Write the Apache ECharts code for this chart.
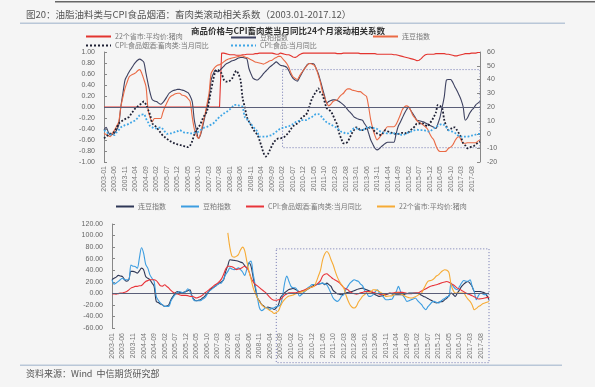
<!DOCTYPE html>
<html><head><meta charset="utf-8">
<script src="https://cdn.jsdelivr.net/npm/echarts@6/dist/echarts.min.js"></script>
<style>html,body{margin:0;padding:0;background:#f5f5f5;}#c{width:595px;height:387px;}</style>
</head><body><div id="c"></div>
<script>
// ---------- categories ----------
const months = [];
for (let y = 2003; y <= 2017; y++) for (let m = 1; m <= 12; m++) months.push(y + '-' + (m < 10 ? '0' : '') + m);

// ---------- top chart: 24-month rolling correlations ----------
const corrDouPo = [
-0.42,-0.37,-0.45,-0.51,-0.50,-0.48,-0.42,-0.33,0.00,0.25,0.49,0.57,
0.64,0.70,0.76,0.81,0.85,0.87,0.85,0.81,0.61,0.42,0.25,0.13,
0.11,0.10,0.07,0.05,0.08,0.13,0.19,0.25,0.28,0.30,0.31,0.32,
0.32,0.31,0.30,0.28,0.26,0.20,0.10,-0.24,-0.42,-0.57,-0.50,-0.35,
-0.18,0.00,0.16,0.49,0.60,0.67,0.64,0.66,0.70,0.74,0.78,0.80,
0.82,0.84,0.85,0.87,0.89,0.90,0.90,0.89,0.88,0.70,0.60,0.52,
0.50,0.49,0.52,0.56,0.61,0.65,0.69,0.73,0.76,0.79,0.82,0.79,
0.76,0.75,0.74,0.72,0.66,0.58,0.52,0.49,0.47,0.53,0.60,0.67,
0.73,0.78,0.79,0.79,0.78,0.70,0.61,0.48,0.34,0.20,0.07,0.10,
0.12,0.13,0.13,0.12,0.10,0.07,0.04,0.00,-0.05,-0.09,-0.13,-0.18,
-0.20,-0.22,-0.23,-0.24,-0.30,-0.36,-0.48,-0.60,-0.68,-0.75,-0.78,-0.76,
-0.72,-0.69,-0.66,-0.64,-0.64,-0.64,-0.64,-0.50,-0.36,-0.28,-0.20,-0.12,
-0.05,0.00,-0.06,-0.12,-0.18,-0.24,-0.25,-0.26,-0.27,-0.29,-0.31,-0.33,
-0.35,-0.37,-0.39,-0.30,-0.18,0.00,0.19,0.49,0.50,0.50,0.45,0.37,
0.30,0.22,0.13,0.00,-0.24,-0.20,-0.12,-0.06,-0.02,0.04,0.07,0.10];

const corrLianDou = [
-0.48,-0.50,-0.52,-0.54,-0.48,-0.42,-0.35,-0.27,0.00,0.18,0.34,0.45,
0.55,0.58,0.60,0.62,0.66,0.68,0.61,0.50,0.37,-0.05,-0.20,-0.27,
-0.21,-0.21,-0.21,-0.21,-0.10,0.00,0.08,0.16,0.20,0.22,0.24,0.25,
0.25,0.22,0.21,0.19,0.15,0.10,-0.18,-0.40,-0.52,-0.57,-0.48,-0.30,
-0.15,0.05,0.25,0.61,0.68,0.73,0.76,0.77,0.79,0.82,0.85,0.87,
0.88,0.89,0.90,0.91,0.92,0.93,0.93,0.91,0.90,0.88,0.86,0.84,
0.82,0.81,0.80,0.79,0.78,0.80,0.82,0.84,0.85,0.88,0.90,0.92,
0.92,0.88,0.84,0.79,0.72,0.62,0.55,0.52,0.50,0.56,0.62,0.67,
0.72,0.77,0.79,0.78,0.76,0.70,0.58,0.45,0.28,0.18,0.08,0.02,
0.05,0.10,0.12,0.13,0.18,0.22,0.25,0.30,0.33,0.33,0.31,0.30,
0.29,0.28,0.28,0.25,0.22,0.19,0.00,-0.24,-0.40,-0.52,-0.60,-0.56,
-0.51,-0.46,-0.40,-0.36,-0.36,-0.36,-0.36,-0.32,-0.24,-0.15,-0.05,0.00,
0.02,0.00,-0.06,-0.15,-0.20,-0.25,-0.28,-0.30,-0.33,-0.36,-0.40,-0.48,
-0.55,-0.60,-0.70,-0.78,-0.81,-0.81,-0.81,-0.80,-0.75,-0.73,-0.69,-0.62,
-0.56,-0.54,-0.60,-0.66,-0.66,-0.65,-0.65,-0.65,-0.65,-0.65,-0.62,-0.60];

const corrPork = [
0,0,0,0,0,0,0,0,0,0,0,0,
0,0,0,0,0,0,0,0,0,0,0,0,
0,0,0,0,0,0,0,0,0,0,0,0,
0,0,0,0,0,0,0,0,0,0,0,0,
0,0,0,0,0,0,0,0,0.98,0.98,0.97,0.96,
0.95,0.95,0.95,0.94,0.94,0.94,0.95,0.95,0.96,0.96,0.96,0.96,
0.97,0.97,0.98,0.98,0.98,0.98,0.98,0.98,0.98,0.97,0.96,0.96,
0.98,0.97,0.96,0.95,0.95,0.93,0.91,0.90,0.92,0.95,0.97,0.98,
0.98,0.98,0.98,0.98,0.98,0.98,0.98,0.98,0.98,0.98,0.98,0.98,
0.98,0.98,0.98,0.97,0.97,0.97,0.98,0.98,0.98,0.98,0.98,0.98,
0.98,0.98,0.97,0.97,0.97,0.97,0.97,0.97,0.97,0.97,0.96,0.96,
0.96,0.96,0.96,0.96,0.96,0.96,0.95,0.95,0.94,0.93,0.92,0.91,
0.90,0.89,0.88,0.87,0.86,0.84,0.85,0.88,0.92,0.95,0.96,0.96,
0.96,0.96,0.97,0.97,0.97,0.97,0.97,0.96,0.96,0.95,0.94,0.93,
0.93,0.94,0.95,0.96,0.97,0.97,0.97,0.98,0.98,0.98,0.99,0.99];

const corrCpiMeat = [
-0.57,-0.54,-0.51,-0.49,-0.47,-0.45,-0.38,-0.30,-0.27,-0.24,-0.22,-0.20,
-0.18,-0.12,-0.07,-0.02,0.01,0.04,0.07,0.10,0.04,-0.05,-0.15,-0.30,
-0.33,-0.37,-0.42,-0.47,-0.52,-0.55,-0.58,-0.61,-0.63,-0.65,-0.67,-0.68,
-0.69,-0.70,-0.71,-0.72,-0.73,-0.70,-0.62,-0.50,-0.42,-0.37,-0.30,-0.21,
-0.14,-0.08,0.10,0.31,0.50,0.64,0.68,0.65,0.61,0.50,0.46,0.46,
0.48,0.52,0.60,0.66,0.60,0.49,0.16,0.00,-0.18,-0.26,-0.33,-0.40,
-0.46,-0.50,-0.60,-0.72,-0.84,-0.90,-0.86,-0.78,-0.70,-0.63,-0.60,-0.57,
-0.57,-0.56,-0.54,-0.50,-0.46,-0.40,-0.35,-0.32,-0.30,-0.26,-0.20,-0.17,
-0.15,-0.08,0.04,0.15,0.22,0.28,0.34,0.26,0.22,0.10,-0.02,-0.05,
-0.08,-0.15,-0.24,-0.32,-0.48,-0.58,-0.66,-0.66,-0.63,-0.56,-0.48,-0.42,
-0.37,-0.38,-0.42,-0.42,-0.40,-0.39,-0.38,-0.36,-0.40,-0.45,-0.48,-0.50,
-0.51,-0.46,-0.42,-0.44,-0.46,-0.47,-0.48,-0.49,-0.49,-0.48,-0.47,-0.47,
-0.48,-0.46,-0.42,-0.39,-0.35,-0.30,-0.30,-0.30,-0.30,-0.33,-0.35,-0.30,
-0.25,-0.18,-0.10,0.04,0.02,-0.02,-0.24,-0.35,-0.42,-0.40,-0.37,-0.37,
-0.42,-0.48,-0.55,-0.66,-0.70,-0.75,-0.74,-0.72,-0.71,-0.68,-0.65,-0.63];

const corrCpiFood = [
-0.42,-0.45,-0.48,-0.50,-0.51,-0.51,-0.46,-0.42,-0.37,-0.35,-0.33,-0.32,
-0.30,-0.28,-0.26,-0.24,-0.20,-0.15,-0.14,-0.13,-0.21,-0.28,-0.35,-0.37,
-0.39,-0.39,-0.38,-0.37,-0.40,-0.45,-0.49,-0.48,-0.48,-0.47,-0.45,-0.44,
-0.42,-0.44,-0.46,-0.47,-0.47,-0.48,-0.48,-0.47,-0.46,-0.45,-0.42,-0.39,
-0.37,-0.36,-0.34,-0.32,-0.30,-0.26,-0.22,-0.18,-0.15,-0.12,-0.10,-0.07,
-0.04,0.00,0.04,0.04,0.03,0.02,0.00,-0.18,-0.22,-0.27,-0.31,-0.36,
-0.40,-0.45,-0.54,-0.54,-0.54,-0.54,-0.53,-0.52,-0.51,-0.48,-0.45,-0.42,
-0.39,-0.38,-0.37,-0.36,-0.35,-0.33,-0.31,-0.28,-0.26,-0.25,-0.24,-0.24,
-0.24,-0.22,-0.20,-0.18,-0.15,-0.13,-0.13,-0.15,-0.20,-0.24,-0.28,-0.30,
-0.32,-0.34,-0.36,-0.38,-0.42,-0.45,-0.46,-0.48,-0.48,-0.46,-0.42,-0.39,
-0.39,-0.40,-0.42,-0.42,-0.40,-0.38,-0.36,-0.37,-0.38,-0.39,-0.40,-0.43,
-0.45,-0.46,-0.47,-0.48,-0.48,-0.48,-0.48,-0.48,-0.49,-0.50,-0.51,-0.50,
-0.48,-0.46,-0.45,-0.43,-0.42,-0.41,-0.42,-0.42,-0.42,-0.43,-0.44,-0.45,
-0.42,-0.39,-0.36,-0.34,-0.32,-0.31,-0.33,-0.37,-0.42,-0.44,-0.45,-0.47,
-0.50,-0.53,-0.54,-0.54,-0.54,-0.54,-0.53,-0.52,-0.51,-0.50,-0.49,-0.49];

// ---------- bottom chart: year-on-year (%) ----------
const yoyLianDou = [
23.5,26,28,31,30,29,23.5,21,24,38,38,37,
35,39,43.6,40.8,29,26,23.5,18,12,-14,-16,-18.5,
-20,-22.6,-22,-19.7,-11,-5,0.5,3.3,2,0.5,2,3.3,
4.5,6,-5,-11,-12.8,-12,-11,-8,-5.3,-1,3.3,8,
10,12,15,17.7,20,23.5,38,48,58,57.5,57,56.5,
55.7,54,52.8,48,44,53,47,28,9.7,-7.6,-13,-19,
-22,-25,-23.7,-25,-26,-28,-25,-20,-7.6,-3,1,4,
6.8,7.5,8.5,7,5,2.8,3.5,4,5,7.5,9.7,12,
14,15,16,16.5,17.7,14.8,17.7,15,12,5,2,-0.7,
-1.5,-2.4,-1,0.5,1.5,2.5,3.3,4.5,6.2,7.5,8.5,9,
7.3,6,4.5,3.3,0.5,-2.4,-4,-5.3,-4.5,-3.5,-2.4,-1,
0.5,-1,-2,-2.4,-2.4,-2.4,-2.4,-1.5,-0.5,0.5,0.5,0.5,
0.5,0.5,-1.5,-3.5,-5.3,-7,-9,-11,-13,-15,-16.8,-15.5,
-14.5,-14,-11,-8.2,-4,0.5,-2,-5.3,0.5,6,12,16,
18.8,20.6,17,12,3.3,3.3,3.3,3.3,2,0.5,-4,-11];

const yoyDouPo = [
23.5,16,18,20.6,24,26,23.5,23.5,23.5,49,47,46.5,
43.6,61,79,69.5,50,43.6,32,26,20.6,-5.3,-12,-17,
-20,-22.6,-22.6,-22.6,-12.8,-7,-2.4,1,3.3,2,0.5,3,
8,3.3,-5,-12.8,-12.8,-12.8,-12.8,-10,-8,-3,3.3,6,
9,12,15.4,17,18.3,25,32.7,38,44,42,41,42,
44,41,37,31,42,52,55.7,34,14,-6,-25,-30,
-28,-24,-26,-27.8,-26,-25,-23,-22,-20,-5,18.3,29.8,
21,12,9.7,9.7,5,-4.7,-2,1,5,9.7,12,15.4,
15.4,15.4,16,17,17.7,16,14.8,8,0,-8.2,-12,-14,
-11,-5,-2.4,6.2,12,17.7,21,23.5,22,20.6,16,13,
5,0.5,-5.3,-5,-2.4,3,6.2,0,-2.4,-7,-11,-11,
-10.5,-9.9,-3,3.3,12,3.3,-3,-8,-14,-13,-11,-10,
-8.2,-12,-16,-19.7,-25,-28.3,-23,-19,-15,-14,-15.5,-16.8,
-14,-11,-9,-6,-5.3,17.7,12,8,6.2,12,18,22.3,
21,21,23.5,12,3,-11,-4,0.5,-1,-2.4,-1,0.5];

const yoyCpiMeat = [
-0.7,-1,-1.3,-0.5,0.5,0.5,2,3.3,6,9,10.5,12,
12,13,13.7,17,20.6,22,23.5,23.5,23.5,22,17.7,13,
12.5,14.8,12,9,5,2,0,-1.3,-2.5,-3.6,-3.6,-3.6,
-4,-5.3,-5.3,-6.5,-8,-7,-5.3,-3,0.5,3,6,9,
12,14.8,17,20.6,25,33,42,47,47,46,44,41,
42,43,45,47,44,38,27,20,15.4,13,10,6.8,
4,1,-3,-7,-10.5,-12,-12,-11,-10.5,-7,-3,-1,
1,1,1,1,2,3,4,5.5,7,8.5,10,11,
12.5,15,18,22,30,33,33.8,31,28,25,23,21,
18,14,10,8,6.2,3,0.5,-0.5,-1.3,-0.5,1,1.6,
3,3.3,3.3,3,2,0.5,-0.5,-1.5,-2.4,-2,-1.3,-0.5,
0,0.5,1,1.6,1.6,1.6,1.6,1,0,-0.7,-0.5,0,
0.5,0.5,2,4,6.2,8,10,12,13,14,14.8,16,
17.5,18.8,19.5,20.6,19,17,14.8,12,9,7.3,5,3,
0.5,-1,-2.5,-4.1,-6,-8,-9.9,-9.5,-9,-8.2,-7,-6.5];

const N = null;
const yoyPork = [
N,N,N,N,N,N,N,N,N,N,N,N,
N,N,N,N,N,N,N,N,N,N,N,N,
N,N,N,N,N,N,N,N,N,N,N,N,
N,N,N,N,N,N,N,N,N,N,N,N,
N,N,N,N,N,N,N,104.7,78.7,64,62.6,64,
67,75,80,74,55.7,38.4,25,10,0,-7.6,-14,-19,
-23,-25,-27,-30,-32,-35,-33,-30.6,-22,-15,-10.5,-7,
-4.7,-4,-3,-1,0,1,2.5,3.5,5,8,9.7,11,
12.5,20,30,40,58,68,72.4,68,58,49.4,38,28,
20.6,15,10,-2,-12,-19.7,-24,-25.4,-22.6,-15,-10,-5,
-2,0.5,0.5,3,6.2,6,5,3,0.5,-2,-5.3,-5,
-4.5,-4.1,-2,0.5,0,-0.7,-2.5,-4.5,-6.5,-7.5,-8.2,-7.5,
-6,-4,-1,0.5,8,15,20.6,22,23,26,30,32,
36,39,40.8,40,36,15,5,0.5,0.5,0.5,0.5,0.5,
-5,-10,-14,-20,-28.3,-26,-23,-21,-18,-16.8,-15.5,-14];

// ---------- labels ----------
const pageTitle = '图20：油脂油料类与CPI食品烟酒：畜肉类滚动相关系数（2003.01-2017.12）';
const topTitle = '商品价格与CPI畜肉类当月同比24个月滚动相关系数';
const sourceText = '资料来源：Wind  中信期货研究部';
const labelMap = {
  t_pork: '22个省市:平均价:猪肉', t_doupo: '豆粕指数', t_liandou: '连豆指数',
  t_cpimeat: 'CPI:食品烟酒:畜肉类:当月同比', t_cpifood: 'CPI:食品:当月同比',
  b_liandou: '连豆指数', b_doupo: '豆粕指数', b_cpimeat: 'CPI:食品烟酒:畜肉类:当月同比', b_pork: '22个省市:平均价:猪肉'
};

const FONT = '"Liberation Sans", "Noto Sans CJK SC", sans-serif';
const CJK = '"Noto Sans CJK SC", sans-serif';
const chart = echarts.init(document.getElementById('c'), null, {renderer: 'canvas'});

function lg(name, left, top, w) {
  return {data: [name], left: left, top: top, itemWidth: w, itemHeight: 8, padding: 0,
    formatter: n => labelMap[n], selectedMode: false,
    itemStyle: {opacity: 0},
    textStyle: {fontSize: 7, color: '#777', fontFamily: CJK, padding: [0, 0, 0, -1]}};
}
function line(name, data, xi, yi, color, width, type, smooth) {
  return {name: name, type: 'line', xAxisIndex: xi, yAxisIndex: yi, data: data, symbol: 'none',
    smooth: smooth, connectNulls: false, animation: false,
    lineStyle: {color: color, width: width, type: type}, itemStyle: {color: color}};
}
const yLab = {fontSize: 7, color: '#666', fontFamily: FONT};

const option = {
  backgroundColor: '#f5f5f5',
  animation: false,
  grid: [
    {left: 104, top: 52, width: 376, height: 110},
    {left: 112, top: 224, width: 377, height: 104}
  ],
  legend: [
    lg('t_pork', 85, 33, 25), lg('t_doupo', 230, 34, 25), lg('t_liandou', 372, 33, 25),
    lg('t_cpimeat', 85, 42, 25), lg('t_cpifood', 230, 42, 25),
    lg('b_liandou', 115, 203, 18), lg('b_doupo', 180, 203, 18), lg('b_cpimeat', 245, 203, 18), lg('b_pork', 376, 203, 18)
  ],
  xAxis: [
    {type: 'category', gridIndex: 0, data: months, boundaryGap: false,
      axisLine: {show: false}, axisTick: {show: false},
      axisLabel: {interval: 4, rotate: 90, fontSize: 7, color: '#777', margin: 4, fontFamily: FONT}},
    {type: 'category', gridIndex: 1, data: months, boundaryGap: false,
      axisLine: {show: false}, axisTick: {show: false},
      axisLabel: {interval: 4, rotate: 90, fontSize: 7, color: '#777', margin: 5, fontFamily: FONT}}
  ],
  yAxis: [
    {type: 'value', gridIndex: 0, min: -1, max: 1, interval: 0.2, position: 'left',
      axisLine: {show: true, lineStyle: {color: '#888'}}, axisTick: {show: true, length: 3, inside: true, lineStyle: {color: '#888'}},
      splitLine: {show: false}, axisLabel: Object.assign({margin: 9, formatter: v => v.toFixed(2)}, yLab)},
    {type: 'value', gridIndex: 0, min: -20, max: 60, interval: 10, position: 'right',
      axisLine: {show: true, lineStyle: {color: '#888'}}, axisTick: {show: true, length: 3, inside: true, lineStyle: {color: '#888'}},
      splitLine: {show: false}, axisLabel: Object.assign({margin: 7}, yLab)},
    {type: 'value', gridIndex: 1, min: -60, max: 120, interval: 20, position: 'left',
      axisLine: {show: true, lineStyle: {color: '#888'}}, axisTick: {show: true, length: 3, inside: true, lineStyle: {color: '#888'}},
      splitLine: {show: false}, axisLabel: Object.assign({margin: 9, formatter: v => v.toFixed(2)}, yLab)}
  ],
  series: [
    Object.assign(line('t_pork', corrPork, 0, 0, '#e3342f', 1.1, 'solid', false), {
      markLine: {silent: true, symbol: 'none', label: {show: false}, animation: false,
        lineStyle: {color: '#5a5e78', width: 1, type: 'solid'}, data: [{yAxis: 0}]}}),
    line('t_doupo', corrDouPo, 0, 0, '#3d4160', 1.1, 'solid', 0.3),
    line('t_liandou', corrLianDou, 0, 0, '#ea6a45', 1.1, 'solid', 0.3),
    line('t_cpimeat', corrCpiMeat, 0, 0, '#1d1f33', 1.8, 'dotted', 0.3),
    line('t_cpifood', corrCpiFood, 0, 0, '#3fa6e6', 1.8, 'dotted', 0.3),
    Object.assign(line('b_liandou', yoyLianDou, 1, 2, '#2e3756', 1.1, 'solid', 0.3), {
      markLine: {silent: true, symbol: 'none', label: {show: false}, animation: false,
        lineStyle: {color: '#5a5e78', width: 1, type: 'solid'}, data: [{yAxis: 0}]}}),
    line('b_doupo', yoyDouPo, 1, 2, '#3c9de0', 1.1, 'solid', 0.3),
    line('b_cpimeat', yoyCpiMeat, 1, 2, '#e8343a', 1.1, 'solid', 0.3),
    line('b_pork', yoyPork, 1, 2, '#f6ab35', 1.1, 'solid', 0.3)
  ],
  graphic: [
    {id: 'topbar', type: 'rect', shape: {x: 55, y: 1, width: 540, height: 1.5}, style: {fill: '#666'}, silent: true},
    {id: 'ptitle', type: 'text', x: 26, y: 14, style: {text: pageTitle, fontSize: 9.5, fill: '#555', fontFamily: CJK, textVerticalAlign: 'middle'}, silent: true},
    {id: 'tline', type: 'rect', shape: {x: 20, y: 22.5, width: 545, height: 1.5}, style: {fill: '#b9c7d8'}, silent: true},
    {id: 'ctitle', type: 'text', x: 288, y: 31, style: {text: topTitle, fontSize: 8.5, fontWeight: 'bold', fill: '#333', fontFamily: CJK, textAlign: 'center', textVerticalAlign: 'middle'}, silent: true},
    {id: 'fline', type: 'rect', shape: {x: 20, y: 364.5, width: 542, height: 1.5}, style: {fill: '#b9c7d8'}, silent: true},
    {id: 'ftext', type: 'text', x: 26, y: 374, style: {text: sourceText, fontSize: 9, fill: '#555', fontFamily: CJK, textVerticalAlign: 'middle'}, silent: true}
  ]
};
chart.setOption(option);

// dotted highlight boxes, placed through the axes' own scales
const a1 = chart.convertToPixel({gridIndex: 0}, ['2010-02', 0.68]);
const b1 = chart.convertToPixel({gridIndex: 0}, ['2017-12', -0.74]);
const a2 = chart.convertToPixel({gridIndex: 1}, ['2009-07', 77]);
const b2 = chart.convertToPixel({gridIndex: 1}, ['2017-12', -120]);
chart.setOption({graphic: [
  {id: 'box1', type: 'rect', shape: {x: a1[0], y: a1[1], width: b1[0] - a1[0], height: b1[1] - a1[1]},
    style: {fill: 'none', stroke: '#7075b0', lineWidth: 1, lineDash: [1, 2]}, silent: true},
  {id: 'box2', type: 'rect', shape: {x: a2[0], y: a2[1], width: b2[0] - a2[0], height: b2[1] - a2[1]},
    style: {fill: 'none', stroke: '#7075b0', lineWidth: 1, lineDash: [1, 2]}, silent: true}
]});
</script></body></html>
